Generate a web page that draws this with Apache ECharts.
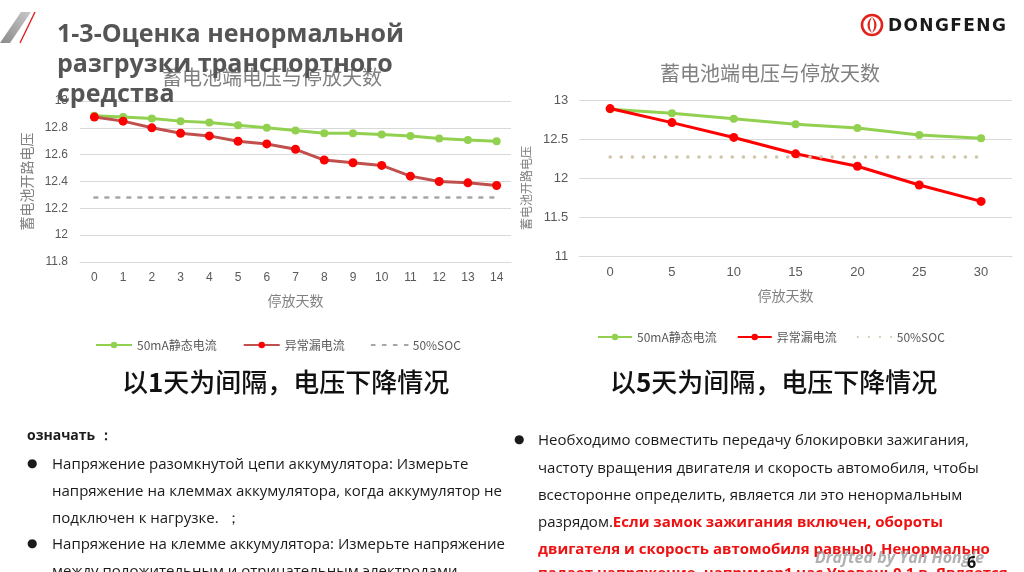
<!DOCTYPE html>
<html>
<head>
<meta charset="utf-8">
<script src="https://cdn.jsdelivr.net/npm/echarts/dist/echarts.min.js"></script>
<style>
  html, body { margin:0; padding:0; background:#fff; }
  #page { position:relative; width:1024px; height:572px; overflow:hidden; background:#fff; }
  .chart { position:absolute; top:0; width:512px; height:572px; }
  .txt { position:absolute; white-space:nowrap; z-index:5; pointer-events:none; }
  .title { left:57px; font-family:'Open Sans','Noto Sans',sans-serif; font-weight:700; font-size:25px; color:#555; line-height:30px; }
  .sub { font-family:'Noto Sans CJK SC',sans-serif; font-size:26px; font-weight:500; color:#111; line-height:30px; }
  .body { font-family:'Open Sans','Noto Sans',sans-serif; font-size:15px; color:#1a1a1a; line-height:20px; }
  .red { color:#ee1111; font-weight:700; }
  .bul { font-family:'DejaVu Sans',sans-serif; font-size:12px; line-height:20px; }
</style>
</head>
<body>
<div id="page">
  <div id="c1" class="chart" style="left:0px;"></div>
  <div id="c2" class="chart" style="left:512px;"></div>

  <!-- corner logo -->
  <svg class="txt" style="left:0;top:8px;" width="40" height="40" viewBox="0 0 40 40">
    <defs><linearGradient id="g" x1="0" y1="1" x2="1" y2="0"><stop offset="0" stop-color="#8a8a8a"/><stop offset="1" stop-color="#c8c8c8"/></linearGradient></defs>
    <polygon points="0,35 21,4 31,4 10,35" fill="url(#g)"/>
    <line x1="20" y1="35" x2="35" y2="4" stroke="#e02020" stroke-width="1.4"/>
  </svg>

  <!-- DONGFENG logo -->
  <svg class="txt" style="left:860px;top:13px;" width="26" height="26" viewBox="0 0 26 26">
    <circle cx="12" cy="12" r="10" fill="none" stroke="#e2231a" stroke-width="2.6"/>
    <path d="M12 4 C6 8 6 16 12 20 C9 15 9 9 12 4Z" fill="#e2231a"/>
    <path d="M12 4 C18 8 18 16 12 20 C15 15 15 9 12 4Z" fill="#e2231a"/>
  </svg>
  <div class="txt" style="left:888px;top:14px;font-family:'DejaVu Sans',sans-serif;font-weight:700;font-size:17px;letter-spacing:1.4px;color:#1a1a1a;line-height:22px;">DONGFENG</div>

  <div class="txt title" style="top:17px;">1-3-Оценка ненормальной</div>
  <div class="txt title" style="top:47px;">разгрузки транспортного</div>
  <div class="txt title" style="top:77px;">средства</div>

  <div class="txt sub" style="left:122px;top:366px;">以<b>1</b>天为间隔，电压下降情况</div>
  <div class="txt sub" style="left:610px;top:366px;">以<b>5</b>天为间隔，电压下降情况</div>

  <div class="txt body" style="left:27px;top:425px;font-weight:700;font-size:14px;">означать ：</div>
  <div class="txt body bul" style="left:27px;top:453px;">●</div>
  <div class="txt body" style="left:52px;top:453px;">Напряжение разомкнутой цепи аккумулятора: Измерьте</div>
  <div class="txt body" style="left:52px;top:480px;">напряжение на клеммах аккумулятора, когда аккумулятор не</div>
  <div class="txt body" style="left:52px;top:507px;">подключен к нагрузке.&nbsp;&nbsp;；</div>
  <div class="txt body bul" style="left:27px;top:533px;">●</div>
  <div class="txt body" style="left:52px;top:533px;">Напряжение на клемме аккумулятора: Измерьте напряжение</div>
  <div class="txt body" style="left:52px;top:560px;">между положительным и отрицательным электродами</div>

  <div class="txt body bul" style="left:514px;top:429px;">●</div>
  <div class="txt body" style="left:538px;top:429px;">Необходимо совместить передачу блокировки зажигания,</div>
  <div class="txt body" style="left:538px;top:457px;">частоту вращения двигателя и скорость автомобиля, чтобы</div>
  <div class="txt body" style="left:538px;top:484px;">всесторонне определить, является ли это ненормальным</div>
  <div class="txt body" style="left:538px;top:511px;">разрядом.<span class="red">Если замок зажигания включен, обороты</span></div>
  <div class="txt body red" style="left:538px;top:538px;">двигателя и скорость автомобиля равны0, Ненормально</div>
  <div class="txt body red" style="left:538px;top:562px;">падает напряжение, например1 час Уровень0.1 в. Является</div>

  <div class="txt" style="left:815px;top:546px;font-family:'Open Sans','Noto Sans',sans-serif;font-style:italic;font-weight:700;font-size:16px;color:rgba(150,150,150,0.75);line-height:22px;">Drafted by Yan Hongle</div>
  <div class="txt" style="left:967px;top:551px;font-family:'Open Sans','Noto Sans',sans-serif;font-weight:700;font-size:16px;color:#111;line-height:22px;">6</div>
</div>

<script>
// ---- data ----
const days1 = ['0','1','2','3','4','5','6','7','8','9','10','11','12','13','14'];
const normal1 = [12.89,12.88,12.87,12.85,12.84,12.82,12.80,12.78,12.76,12.76,12.75,12.74,12.72,12.71,12.70];
const leak1   = [12.88,12.85,12.80,12.76,12.74,12.70,12.68,12.64,12.56,12.54,12.52,12.44,12.40,12.39,12.37];
const soc1    = [12.28,12.28,12.28,12.28,12.28,12.28,12.28,12.28,12.28,12.28,12.28,12.28,12.28,12.28,12.28];

const days2 = ['0','5','10','15','20','25','30'];
const normal2 = [12.88,12.83,12.76,12.69,12.64,12.55,12.51];
const leak2   = [12.89,12.71,12.52,12.31,12.15,11.91,11.70];
const soc2    = [12.27,12.27,12.27,12.27,12.27,12.27,12.27];

const names = ['50mA静态电流','异常漏电流','50%SOC'];
const chartTitle = '蓄电池端电压与停放天数';
const yName = '蓄电池开路电压';
const xName = '停放天数';

const numFont = "'Liberation Sans','Noto Sans CJK SC',sans-serif";
const cjkFont = "'Noto Sans CJK SC',sans-serif";
const GREEN = '#92d050';

function makeOption(cfg) {
  return {
    animation: false,
    title: {
      text: chartTitle, left: cfg.titleLeft, top: cfg.titleTop,
      textStyle: { fontFamily: cjkFont, fontSize: 20, fontWeight: 'normal', color: '#808080' }
    },
    legend: {
      left: cfg.legLeft, top: cfg.legTop, itemWidth: cfg.legW, itemHeight: 8, itemGap: cfg.legGap,
      textStyle: { fontFamily: cjkFont, fontSize: 12, color: '#595959' },
      data: [
        { name: names[0] },
        { name: names[1] },
        { name: names[2], itemStyle: { opacity: 0 } }
      ]
    },
    grid: cfg.grid,
    xAxis: {
      type: 'category', data: cfg.days, boundaryGap: true,
      axisTick: { show: false },
      axisLine: { lineStyle: { color: '#d9d9d9' } },
      axisLabel: { color: '#595959', fontFamily: numFont, fontSize: cfg.labelSize, margin: 10 },
      name: xName, nameLocation: 'middle', nameGap: cfg.xNameGap,
      nameTextStyle: { fontFamily: cjkFont, fontSize: 14, color: '#808080', padding: cfg.xNamePad }
    },
    yAxis: {
      type: 'value', min: cfg.ymin, max: cfg.ymax, interval: cfg.yint,
      axisLine: { show: false }, axisTick: { show: false },
      splitLine: { lineStyle: { color: '#d9d9d9' } },
      axisLabel: { color: '#595959', fontFamily: numFont, fontSize: cfg.labelSize, margin: cfg.yLabelMargin },
      name: yName, nameLocation: 'middle', nameGap: cfg.yNameGap,
      nameTextStyle: { fontFamily: cjkFont, fontSize: cfg.yNameSize, color: '#808080', padding: cfg.yNamePad }
    },
    series: [
      { name: names[0], type: 'line', data: cfg.normal, symbol: 'circle', symbolSize: 8,
        itemStyle: { color: GREEN }, lineStyle: { color: GREEN, width: 3 } },
      { name: names[1], type: 'line', data: cfg.leak, symbol: 'circle', symbolSize: 9,
        itemStyle: { color: '#ff0000' }, lineStyle: { color: cfg.leakLine, width: 3 } },
      { name: names[2], type: 'line', data: cfg.soc, symbol: 'none',
        itemStyle: { color: cfg.socColor },
        lineStyle: { color: cfg.socColor, width: cfg.socWidth, type: cfg.socType, cap: 'round' } }
    ]
  };
}

const c1 = echarts.init(document.getElementById('c1'));
c1.setOption(makeOption({
  titleLeft: 157, titleTop: 62,
  legLeft: 90, legTop: 334, legW: 36, legGap: 26,
  grid: { left: 80, right: 1, top: 101, bottom: 310 },
  days: days1, labelSize: 12, xNameGap: 32, xNamePad: [0,0,0,0],
  ymin: 11.8, ymax: 13, yint: 0.2, yLabelMargin: 12,
  yNameGap: 40, yNameSize: 14, yNamePad: [0,0,0,0],
  normal: normal1, leak: leak1, soc: soc1,
  leakLine: '#c0504d', socColor: '#a6a6a6', socWidth: 2.5, socType: [3, 8]
}));

const c2 = echarts.init(document.getElementById('c2'));
c2.setOption(makeOption({
  titleLeft: 143, titleTop: 58,
  legLeft: 80, legTop: 326, legW: 34, legGap: 20,
  grid: { left: 67, right: 12, top: 100, bottom: 316 },
  days: days2, labelSize: 13, xNameGap: 33, xNamePad: [0,20,0,0],
  ymin: 11, ymax: 13, yint: 0.5, yLabelMargin: 11,
  yNameGap: 42, yNameSize: 12, yNamePad: [0,20,0,0],
  normal: normal2, leak: leak2, soc: soc2,
  leakLine: '#ff0000', socColor: '#cfc6a8', socWidth: 3.5, socType: [0.1, 11]
}));
</script>
</body>
</html>
